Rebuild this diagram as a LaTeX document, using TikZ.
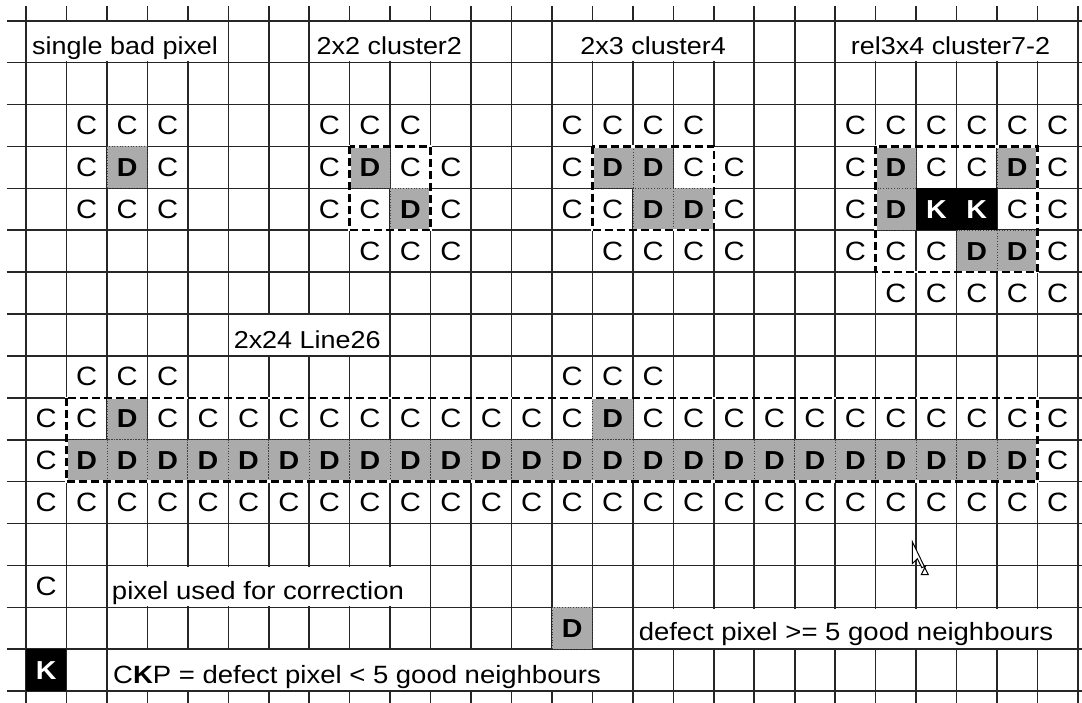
\documentclass[tikz,border=0pt]{standalone}
\usepackage{fontspec}
\setmainfont{Liberation Sans}[FakeStretch=1.1]
\tikzset{
  gridline/.style={line width=1.6pt, draw=black!85},
  cellC/.style={inner sep=0pt, font=\fontsize{26.5}{30}\selectfont},
  cellD/.style={inner sep=0pt, font=\fontsize{26}{30}\selectfont\bfseries},
  cellK/.style={inner sep=0pt, text=white, font=\fontsize{26}{30}\selectfont\bfseries},
  dfill/.style={fill=black!33},
  dborder/.style={draw=black!75, line width=0.7pt, dotted},
  kfill/.style={fill=black},
  clusterbg/.style={draw=white, line width=2.5pt},
  clusterbox/.style={draw=black, line width=2.5pt, dash pattern=on 8pt off 4pt},
  titletext/.style={anchor=base, inner sep=0pt, font=\fontsize{24.5}{28}\selectfont},
  legendtext/.style={anchor=base west, inner sep=0pt, font=\fontsize{25}{30}\selectfont},
  mergedcell/.style={fill=white},
  cursorshape/.style={fill=white, draw=black, line width=1pt, line join=miter},
}
\begin{document}
\begin{tikzpicture}
\useasboundingbox (0,0) rectangle (1082pt,-702pt);
\fill[white] (0,0) rectangle (1082pt,-702pt);
\begin{scope}[shift={(26pt,-20.7pt)}, x=40.46pt, y=-41.9pt]
  % grid
  \foreach \j in {0,...,16} \draw[gridline] (-0.47,\j) -- (26.2,\j);
  \foreach \k in {0,...,26} \draw[gridline] (\k,-0.35) -- (\k,16.3);
  % merged cells
  \foreach \a/\b/\r in {0/5/0, 7/11/0, 13/18/0, 20/26/0, 5/9/7, 2/10/13, 15/26/14, 2/15/15}
    \fill[mergedcell] (\a+0.025,\r+0.03) rectangle (\b-0.025,\r+0.97);
  % defect cells
  \foreach \r/\cols in {3/{2,8,14,15,21,24}, 4/{9,15,16,21}, 5/{23,24}, 9/{2,14}, 10/{1,...,24}, 14/{13}} {
    \foreach \c in \cols {
      \fill[dfill] (\c,\r) rectangle (\c+1,\r+1);
      \draw[dborder] (\c,\r) rectangle (\c+1,\r+1);
    }
  }
  % K cells
  \fill[kfill] (22,4) rectangle (24,5);
  \fill[kfill] (0,15) rectangle (1,16);
  % cluster boxes
  \foreach \a/\b/\c/\d in {8/3/10/5, 14/3/17/5, 21/3/25/6, 1/9/25/11} {
    \draw[clusterbg] (\a,\b) rectangle (\c,\d);
    \draw[clusterbox] (\a,\b) rectangle (\c,\d);
  }
  % C letters
  \foreach \r/\cols in {2/{1,2,3,7,8,9,13,14,15,16,20,21,22,23,24,25},
                        3/{1,3,7,9,10,13,16,17,20,22,23,25},
                        4/{1,2,3,7,8,10,13,14,17,20,24,25},
                        5/{8,9,10,14,15,16,17,20,21,22,25},
                        6/{21,22,23,24,25},
                        8/{1,2,3,13,14,15},
                        9/{0,1,3,4,5,6,7,8,9,10,11,12,13,15,16,17,18,19,20,21,22,23,24,25},
                        10/{0,25},
                        11/{0,...,25},
                        13/{0}} {
    \foreach \c in \cols {
      \node[cellC] (C\c-\r) at (\c+0.5,\r+0.5) {C};
    }
  }
  % D letters
  \foreach \r/\cols in {3/{2,8,14,15,21,24}, 4/{9,15,16,21}, 5/{23,24}, 9/{2,14}, 10/{1,...,24}, 14/{13}} {
    \foreach \c in \cols {
      \node[cellD] (D\c-\r) at (\c+0.5,\r+0.5) {D};
    }
  }
  % K letters
  \node[cellK] (K22-4) at (22.5,4.5) {K};
  \node[cellK] (K23-4) at (23.5,4.5) {K};
  \node[cellK] (K0-15) at (0.5,15.5) {K};
  % titles
  \node[titletext] (t1) at (2.45,0.81) {single bad pixel};
  \node[titletext] (t2) at (8.98,0.81) {2x2 cluster2};
  \node[titletext] (t3) at (15.5,0.81) {2x3 cluster4};
  \node[titletext] (t4) at (22.85,0.81) {rel3x4 cluster7-2};
  \node[titletext] (t5) at (6.95,7.82) {2x24 Line26};
  % legend
  \node[legendtext] (l1) at (2.12,13.82) {pixel used for correction};
  \node[legendtext] (l2) at (15.14,14.8) {defect pixel >= 5 good neighbours};
  \node[legendtext] (l3) at (2.15,15.81) {C\textbf{K}P = defect pixel < 5 good neighbours};
\end{scope}
% mouse pointer
\draw[cursorshape] (912.3pt,-541.7pt) -- ++(0pt,-22pt) -- ++(5pt,5pt) -- ++(4.5pt,-9pt)
  -- ++(3.8pt,1.6pt) -- ++(-4.3pt,-8.6pt) -- ++(7pt,0pt) -- cycle;
\end{tikzpicture}
\end{document}
